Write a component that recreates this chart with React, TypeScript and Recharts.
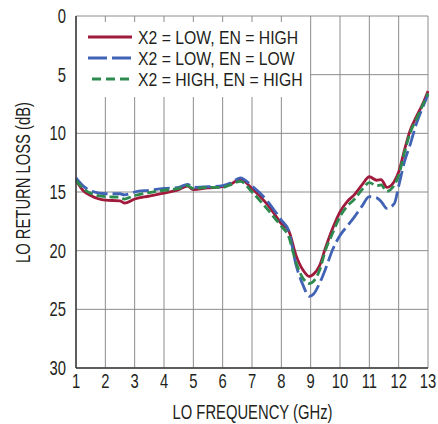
import React from "react"
import {
  LineChart,
  Line,
  XAxis,
  YAxis,
  CartesianGrid,
  Legend,
} from "recharts"

const RED = "#a01a3c"
const BLUE = "#4163b5"
const GREEN = "#2e8b50"
const FRAME = "#3a3a3a"
const GRID = "#8c8c8c"
const FONT = "'Liberation Sans', Arial, sans-serif"

// LO frequency, GHz
const FREQ = [
  1, 1.25, 1.5, 2, 2.5, 2.65, 3, 3.5, 4, 4.5, 4.8, 5, 5.5, 6, 6.3, 6.6, 7, 7.5, 7.8, 8,
  8.25, 8.5, 8.75, 8.95, 9.1, 9.3, 9.5, 9.75, 10, 10.25, 10.5, 10.75, 11, 11.25, 11.4,
  11.6, 11.85, 12, 12.2, 12.4, 12.6, 12.8, 13,
]

// LO return loss, dB
const RL_X2LOW_ENHIGH = [
  14.0, 14.9, 15.3, 15.7, 15.75, 15.95, 15.6, 15.35, 15.1, 14.8, 14.5, 14.8, 14.65, 14.55,
  14.3, 13.9, 14.7, 16.0, 17.0, 17.7, 18.3, 20.4, 21.7, 22.2, 22.0, 21.3, 19.8, 18.1, 16.7,
  15.8, 15.2, 14.4, 13.7, 14.0, 13.95, 14.6, 14.1, 13.3, 11.4, 9.7, 8.6, 7.6, 6.4,
]
const RL_X2LOW_ENLOW = [
  13.8, 14.5, 14.9, 15.15, 15.15, 15.25, 15.0, 14.85, 14.7, 14.6, 14.35, 14.6, 14.55, 14.45,
  14.2, 13.8, 14.5, 15.7, 16.7, 17.4, 18.3, 21.2, 23.0, 23.9, 23.7, 22.8, 21.6, 19.9, 18.7,
  17.9, 17.1, 16.2, 15.4, 15.5, 15.8, 16.4, 16.0, 14.5, 12.4, 10.9, 9.2, 7.9, 6.7,
]
const RL_X2HIGH_ENHIGH = [
  14.0, 14.7, 15.1, 15.4, 15.45, 15.6, 15.3, 15.05, 14.85, 14.7, 14.45, 14.7, 14.6, 14.6,
  14.35, 14.1, 15.0, 16.4, 17.3, 17.9, 18.8, 21.0, 22.4, 22.8, 22.6, 21.7, 20.0, 18.5, 17.1,
  16.2, 15.6, 14.8, 14.2, 14.45, 14.4, 14.95, 14.4, 13.6, 11.6, 9.9, 8.8, 7.7, 6.6,
]

const X_TICKS = [1, 2, 3, 4, 5, 6, 7, 8, 9, 10, 11, 12, 13]
const Y_TICKS = [0, 5, 10, 15, 20, 25, 30]

const SERIES = [
  { key: "lowHigh", name: "X2 = LOW, EN = HIGH", color: RED, dash: undefined, legendDash: undefined },
  { key: "lowLow", name: "X2 = LOW, EN = LOW", color: BLUE, dash: "16 5", legendDash: "19 5" },
  { key: "highHigh", name: "X2 = HIGH, EN = HIGH", color: GREEN, dash: "9 4", legendDash: "9 5" },
]

const data = FREQ.map((f, i) => ({
  f,
  lowHigh: RL_X2LOW_ENHIGH[i],
  lowLow: RL_X2LOW_ENLOW[i],
  highHigh: RL_X2HIGH_ENHIGH[i],
}))

// condensed-looking text: regular sans squeezed horizontally
function CondText({
  x,
  y,
  anchor = "start",
  size = 20,
  sx = 0.72,
  rotate = 0,
  children,
}: {
  x: number
  y: number
  anchor?: "start" | "middle" | "end"
  size?: number
  sx?: number
  rotate?: number
  children: React.ReactNode
}) {
  return (
    <text
      transform={`translate(${x} ${y}) rotate(${rotate}) scale(${sx} 1)`}
      textAnchor={anchor}
      fontSize={size}
      fontFamily={FONT}
      fill="#231f20"
    >
      {children}
    </text>
  )
}

function XTick(p: any) {
  return (
    <CondText x={p.x} y={p.y + 20} anchor="middle" size={20} sx={0.74}>
      {p.payload.value}
    </CondText>
  )
}

function YTick(p: any) {
  return (
    <CondText x={p.x - 10} y={p.y + 7} anchor="end" size={20} sx={0.74}>
      {p.payload.value}
    </CondText>
  )
}

function LegendBox() {
  const rows = [15, 36, 57]
  return (
    <svg width={233} height={75} style={{ display: "block" }}>
      {SERIES.map((s, i) => (
        <g key={s.key}>
          <line
            x1={i === 2 ? 15 : 11}
            x2={55}
            y1={rows[i]}
            y2={rows[i]}
            stroke={s.color}
            strokeWidth={3}
            strokeDasharray={s.legendDash}
          />
          <CondText x={61} y={rows[i] + 7} size={19} sx={0.83}>
            {s.name}
          </CondText>
        </g>
      ))}
    </svg>
  )
}

export default function App() {
  return (
    <div style={{ position: "absolute", left: 0, top: 0, width: 438, height: 424, background: "#fff" }}>
      <LineChart width={438} height={424} data={data} margin={{ top: 16, right: 10, bottom: 0, left: 0 }}>
        <CartesianGrid stroke={GRID} strokeWidth={1} />
        <XAxis
          dataKey="f"
          type="number"
          domain={[1, 13]}
          ticks={X_TICKS}
          height={56}
          tickSize={0}
          tickMargin={0}
          tickLine={false}
          axisLine={{ stroke: FRAME, strokeWidth: 1.5 }}
          tick={XTick}
          label={{
            content: () => (
              <CondText x={252.5} y={419} anchor="middle" size={20} sx={0.74}>
                LO FREQUENCY (GHz)
              </CondText>
            ),
          }}
        />
        <XAxis
          xAxisId="top"
          orientation="top"
          dataKey="f"
          type="number"
          domain={[1, 13]}
          ticks={X_TICKS}
          height={0}
          tick={false}
          tickLine={false}
          axisLine={{ stroke: FRAME, strokeWidth: 1.5 }}
        />
        <YAxis
          type="number"
          domain={[0, 30]}
          reversed
          ticks={Y_TICKS}
          width={76}
          tickSize={0}
          tickMargin={0}
          tickLine={false}
          axisLine={{ stroke: FRAME, strokeWidth: 1.5 }}
          tick={YTick}
          label={{
            content: () => (
              <CondText x={29.5} y={182.5} anchor="middle" size={20} sx={0.74} rotate={-90}>
                LO RETURN LOSS (dB)
              </CondText>
            ),
          }}
        />
        <YAxis
          yAxisId="right"
          orientation="right"
          type="number"
          domain={[0, 30]}
          reversed
          width={0}
          tick={false}
          tickLine={false}
          axisLine={{ stroke: FRAME, strokeWidth: 1.5 }}
        />
        <Legend
          layout="vertical"
          align="center"
          verticalAlign="middle"
          wrapperStyle={{ left: 77, top: 22, width: 233, height: 75, background: "#fff" }}
          content={() => <LegendBox />}
        />
        {SERIES.map((s) => (
          <Line
            key={s.key}
            type="monotone"
            dataKey={s.key}
            name={s.name}
            stroke={s.color}
            strokeWidth={2.8}
            strokeDasharray={s.dash}
            dot={false}
            activeDot={false}
            isAnimationActive={false}
          />
        ))}
      </LineChart>
    </div>
  )
}
